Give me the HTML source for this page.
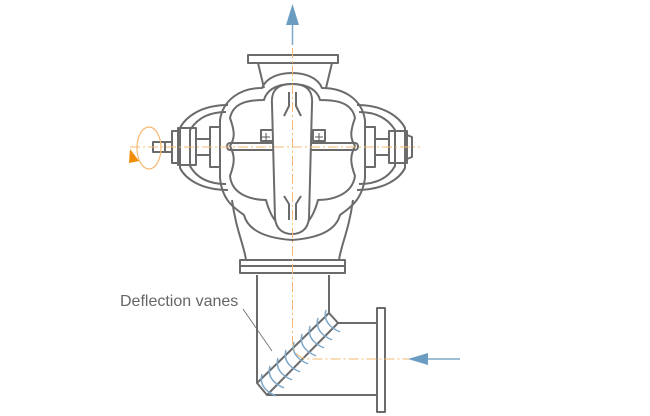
<!DOCTYPE html>
<html><head><meta charset="utf-8"><style>html,body{margin:0;padding:0;background:#fff}svg{display:block}</style></head><body>
<svg width="650" height="416" viewBox="0 0 650 416" xmlns="http://www.w3.org/2000/svg">
<g fill="none" stroke="#6b6b6b" stroke-width="2" stroke-linejoin="round">
<rect x="248" y="55" width="90" height="8"/>
<path d="M258 63 L264 88 M332 63 L326 88"/>
<path d="M228 105 C200 105 185 118 180 128 L180 168 C185 178 200 190 228 190"/>
<path d="M226 112 C205 112 195 122 190 130 L190 166 C195 175 205 184 226 184"/>
<path d="M357 105 C385 105 400 118 405 128 L405 168 C400 178 385 190 357 190"/>
<path d="M359 112 C380 112 390 122 395 130 L395 166 C390 175 380 184 359 184"/>
<path d="M262 88 C266 78 278 73 292 73 C306 73 318 78 322 88 C345 88 362 100 365 120 L365 178 C362 200 350 208 340 215 C336 230 320 238 292 240 C264 238 248 230 244 215 C234 208 222 200 220 178 L220 120 C223 100 240 88 262 88 Z"/>
<path d="M292 84 C310 84 318 92 320 100 C340 100 352 104 355 118 C350 132 350 138 355 146 C350 156 350 162 355 176 C352 196 330 200 318 200 C312 222 304 228 292 228 C280 228 272 222 266 200 C254 200 232 196 230 176 C235 162 235 156 230 146 C235 138 235 132 230 118 C233 104 245 100 264 100 C266 92 274 84 292 84 Z"/>
<path d="M232 200 C236 230 244 245 246 260 M353 200 C349 230 341 245 339 260"/>
<rect x="240" y="260" width="105" height="13"/>
<path d="M240 266 L345 266"/>
<path d="M230 143 L355 143 M230 150 L355 150" />
<rect x="153" y="142" width="12" height="10"/>
<path d="M165 142 L172 142 M165 152 L172 152"/>
<path d="M172 131 L178 131 L178 163 L172 163 Z"/>
<rect x="178" y="128" width="18" height="37"/>
<rect x="196" y="139" width="14" height="16"/>
<rect x="210" y="127" width="10" height="40"/>
<rect x="365" y="127" width="10" height="40"/>
<rect x="375" y="139" width="14" height="16"/>
<rect x="389" y="131" width="18" height="32"/>
<path d="M407 135 L412 137 L412 157 L407 159"/>
<rect x="261" y="130" width="12" height="11"/>
<rect x="313" y="130" width="12" height="11"/>
<path d="M292 84 C308 84 313 92 312 104 L309 218 C308 230 300 234 292 234 C284 234 276 230 275 218 L272 104 C271 92 276 84 292 84 Z" fill="#fff"/>
<path d="M289 92 L289 106 L284 116 M296 92 L296 106 L301 116"/>
<path d="M289 220 L289 204 L284 196 M296 220 L296 204 L301 196"/>
<path d="M230 143 C226 143 226 150 230 150 M355 143 C359 143 359 150 355 150"/>
<path d="M257 275 L257 383 L267 395 L377 395 M329 275 L329 313 L338 323 L377 323"/>
<path d="M257 383 L329 313 M267 395 L338 323"/>
<rect x="377" y="308" width="8" height="104"/>
</g>
<g stroke="#555" stroke-width="1" fill="none"><path d="M266 141 v-8 M262 137 h8 M319 141 v-8 M315 137 h8"/></g>
<g stroke="#7fa8c8" stroke-width="1.5" fill="none">
<path d="M262 374 Q258 388 276 396"/>
<path d="M270 366 Q266 380 284 388"/>
<path d="M278 358 Q274 372 292 380"/>
<path d="M286 350 Q282 364 300 372"/>
<path d="M294 342 Q290 356 308 364"/>
<path d="M302 334 Q298 348 316 356"/>
<path d="M310 326 Q306 340 324 348"/>
<path d="M318 318 Q314 332 332 340"/>
<path d="M326 310 Q322 324 340 332"/>
</g>
<g stroke="#f5b870" stroke-width="1" fill="none" stroke-dasharray="10 3 2 3">
<path d="M292.5 48 L292.5 300"/>
<path d="M130 147 L420 147"/>
<path d="M292.5 300 L292.5 340 C292.5 352 298 359 310 359 L410 359"/>
</g>
<ellipse cx="149" cy="148" rx="12" ry="21" stroke="#f5b870" stroke-width="1.2" fill="none"/>
<path d="M130 149 L139 161 L129 163 Z" fill="#f08c00"/>
<path d="M292.5 45 L292.5 22" stroke="#7fa8c8" stroke-width="1.5"/>
<path d="M292.5 4 L286 25 L299 25 Z" fill="#6b9cc2"/>
<path d="M460 359 L425 359" stroke="#7fa8c8" stroke-width="1.5"/>
<path d="M408 359 L428 353 L428 365 Z" fill="#6b9cc2"/>
<path d="M243 309 L272 351" stroke="#666" stroke-width="0.8"/>
<text x="120" y="306" font-family="Liberation Sans, sans-serif" font-size="16" fill="#666">Deflection vanes</text>
</svg>
</body></html>
